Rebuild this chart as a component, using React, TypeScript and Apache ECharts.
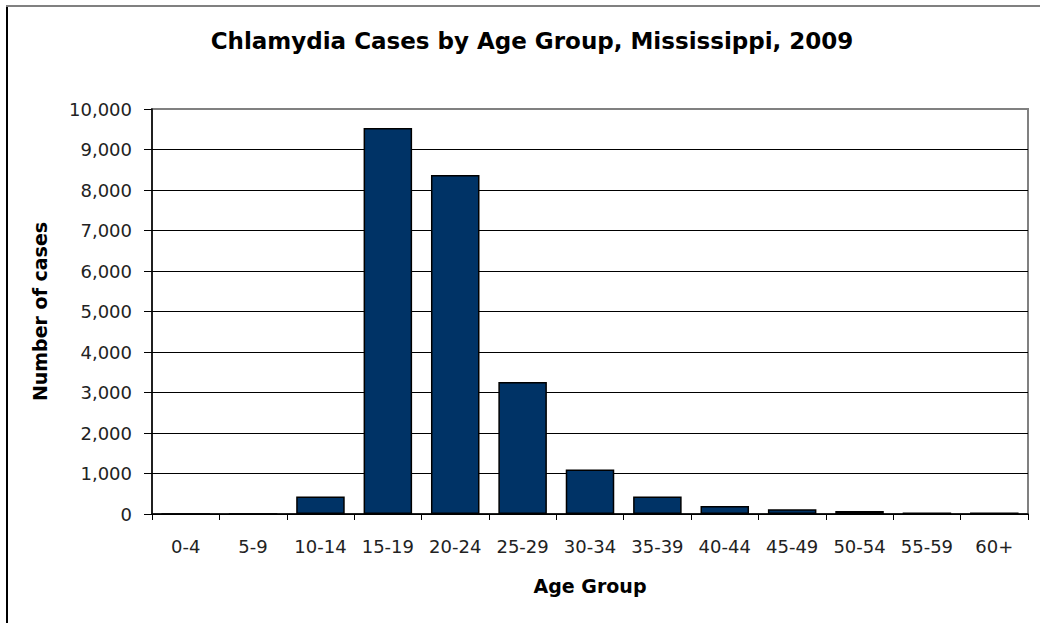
import React, { useEffect, useRef } from "react";
import * as echarts from "echarts";

const ageGroups = ["0-4", "5-9", "10-14", "15-19", "20-24", "25-29", "30-34", "35-39", "40-44", "45-49", "50-54", "55-59", "60+"];
const cases = [0, 0, 430, 9530, 8370, 3260, 1100, 430, 200, 115, 75, 40, 40];
const titleText = "Chlamydia Cases by Age Group, Mississippi, 2009";
const xName = "Age Group";
const yName = "Number of cases";

export default function App() {
  const ref = useRef<HTMLDivElement>(null);
  useEffect(() => {
    if (!ref.current) return;
    const chart = echarts.init(ref.current, null, { renderer: "svg" });
    const font = "'DejaVu Sans', Verdana, sans-serif";
    chart.setOption({
      animation: false,
      backgroundColor: "#ffffff",
      grid: {
        left: 152,
        right: 12,
        top: 109,
        bottom: 109,
        show: true,
        borderColor: "#808080",
        borderWidth: 2,
        backgroundColor: "transparent",
      },
      graphic: [
        { type: "line", shape: { x1: 7, y1: 5, x2: 7, y2: 623 }, style: { stroke: "#000", lineWidth: 2 } },
        { type: "line", shape: { x1: 6, y1: 6, x2: 1040, y2: 6 }, style: { stroke: "#808080", lineWidth: 2 } },
        {
          type: "text",
          x: 532,
          y: 41,
          style: {
            text: titleText,
            fill: "#000",
            font: `bold 23px ${font}`,
            textAlign: "center",
            textVerticalAlign: "middle",
          },
        },
      ],
      xAxis: {
        type: "category",
        data: ageGroups,
        name: xName,
        nameLocation: "middle",
        nameGap: 62,
        nameTextStyle: { fontFamily: font, fontWeight: "bold", fontSize: 19, color: "#000" },
        axisLine: { lineStyle: { color: "#000", width: 1.5 } },
        axisTick: { show: true, length: 6, lineStyle: { color: "#000" } },
        axisLabel: { color: "#222", fontFamily: font, fontSize: 18, margin: 23, interval: 0 },
      },
      yAxis: {
        type: "value",
        min: 0,
        max: 10000,
        interval: 1000,
        name: yName,
        nameLocation: "middle",
        nameGap: 103,
        nameRotate: 90,
        nameTextStyle: { fontFamily: font, fontWeight: "bold", fontSize: 19, color: "#000" },
        axisLine: { show: true, lineStyle: { color: "#000", width: 1.5 } },
        axisTick: { show: true, length: 8, lineStyle: { color: "#000" } },
        axisLabel: {
          color: "#222",
          fontFamily: font,
          fontSize: 18,
          margin: 20,
          formatter: (v: number) => v.toLocaleString("en-US"),
        },
        splitLine: { show: true, showMaxLine: false, lineStyle: { color: "#000", width: 1 } },
      },
      series: [
        {
          type: "bar",
          data: cases,
          barCategoryGap: "28%",
          itemStyle: { color: "#003366", borderColor: "#000", borderWidth: 1.5 },
        },
      ],
    });
    return () => chart.dispose();
  }, []);
  return <div ref={ref} style={{ position: "absolute", left: 0, top: 0, width: 1040, height: 623 }} />;
}
